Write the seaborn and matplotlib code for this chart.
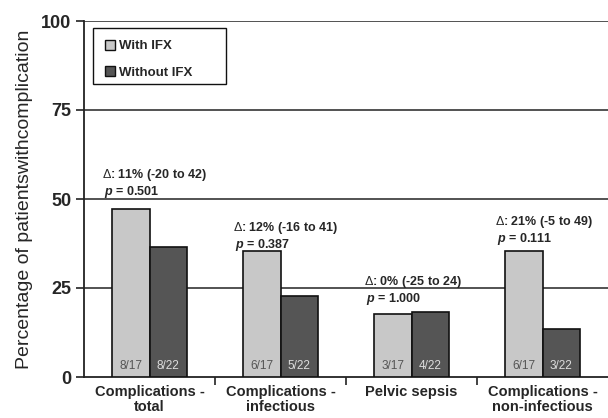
import matplotlib
matplotlib.use("Agg")
import matplotlib.pyplot as plt
import seaborn as sns
import pandas as pd
from matplotlib.patches import Patch, Rectangle

categories = ["Complications -\ntotal", "Complications -\ninfectious", "Pelvic sepsis", "Complications -\nnon-infectious"]
groups = ["With IFX", "Without IFX"]
with_ifx = [47.1, 35.3, 17.6, 35.3]
without_ifx = [36.4, 22.7, 18.2, 13.6]
with_frac = ["8/17", "6/17", "3/17", "6/17"]
without_frac = ["8/22", "5/22", "4/22", "3/22"]
delta_text = ["11% (-20 to 42)", "12% (-16 to 41)", "0% (-25 to 24)", "21% (-5 to 49)"]
p_text = ["0.501", "0.387", "1.000", "0.111"]
annot_y = [56.7, 41.9, 26.7, 43.5]

sns.set_style("white")
plt.rcParams["font.family"] = ["Liberation Sans", "DejaVu Sans"]
plt.rcParams["mathtext.fontset"] = "custom"
plt.rcParams["mathtext.it"] = "Liberation Sans:italic:bold"
plt.rcParams["mathtext.rm"] = "Liberation Sans"

df = pd.DataFrame({
    "category": categories * 2,
    "group": [groups[0]] * 4 + [groups[1]] * 4,
    "value": with_ifx + without_ifx,
})

fig = plt.figure(figsize=(6.08, 4.18), dpi=100)
ax = fig.add_axes([84 / 608, 1 - 377 / 418, 1 - 84 / 608, (377 - 21) / 418])

colors = ["#c8c8c8", "#555555"]
sns.barplot(data=df, x="category", y="value", hue="group", palette=colors,
            width=0.57, gap=0, edgecolor="#111111", linewidth=1.2, ax=ax,
            legend=False, zorder=3)

ax.set_ylim(0, 100)
ax.set_xlim(-0.5, 3.5)
ax.set_yticks([0, 25, 50, 75, 100])
ax.set_yticklabels(["0", "25", "50", "75", "100"], fontsize=13, fontweight="bold")
for yv in [25, 50, 75, 100]:
    ax.axhline(yv, color="#444444", lw=1.3, zorder=1)

ax.set_xticks(range(4))
ax.set_xticklabels(categories, fontsize=10.5, fontweight="bold", linespacing=1.05)
ax.tick_params(axis="x", which="major", length=0, pad=6)
ax.set_xticks([0.5, 1.5, 2.5], minor=True)
ax.tick_params(axis="x", which="minor", bottom=True, length=6, width=1.2,
               color="#222222", direction="out")
ax.tick_params(axis="y", length=6, width=1.2, color="#222222", direction="out", pad=3, left=True)
ax.set_xlabel("")
ax.set_ylabel("Percentage of patientswithcomplication", fontsize=14, labelpad=6)

for s in ["top", "right"]:
    ax.spines[s].set_visible(False)
for s in ["left", "bottom"]:
    ax.spines[s].set_color("#222222")
    ax.spines[s].set_linewidth(1.3)

# fraction labels inside bars
bars = ax.patches
for i, b in enumerate(bars[:8]):
    if i < 4:
        txt, col = with_frac[i], "#555555"
    else:
        txt, col = without_frac[i - 4], "#dddddd"
    ax.text(b.get_x() + b.get_width() / 2, 3, txt, ha="center", va="center",
            fontsize=8.5, color=col, zorder=4)

for i in range(4):
    ax.text(i - 0.36, annot_y[i], r"$\Delta$: " + delta_text[i], fontsize=9,
            fontweight="bold", ha="left", va="center", zorder=4)
    ax.text(i - 0.35, annot_y[i] - 4.8, r"$p$ = " + p_text[i], fontsize=9,
            fontweight="bold", ha="left", va="center", zorder=4)

handles = [Patch(facecolor=colors[0], edgecolor="#111111", lw=1),
           Patch(facecolor=colors[1], edgecolor="#111111", lw=1)]
leg = ax.legend(handles, groups, loc="upper left", bbox_to_anchor=(0.017, 0.98),
                frameon=False,
                prop={"weight": "bold", "size": 9.5}, handlelength=0.75,
                handleheight=0.75, handletextpad=0.35, labelspacing=1.05,
                borderpad=0.9, borderaxespad=0)
leg.set_zorder(6)
ax.add_patch(Rectangle((9 / 524, (377 - 84) / 356), (226 - 93) / 524, 56 / 356,
                       transform=ax.transAxes, facecolor="white",
                       edgecolor="#111111", lw=1.0, zorder=5))

fig.savefig("out.png", dpi=100)
